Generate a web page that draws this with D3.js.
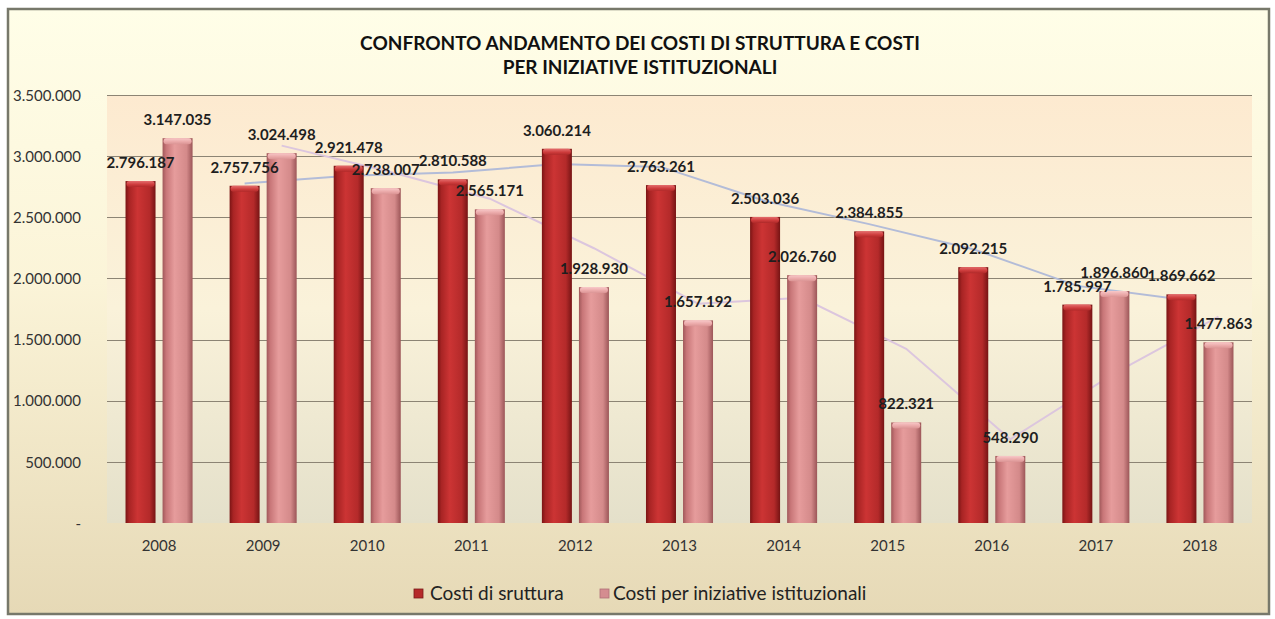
<!DOCTYPE html>
<html lang="it">
<head>
<meta charset="UTF-8">
<title>Confronto costi</title>
<script src="https://cdn.jsdelivr.net/npm/d3@7"></script>
<style>
  body { margin: 0; background: #fff; }
  svg text { font-family: Lato, "Open Sans", sans-serif; }
  .grid line { stroke: #8c8474; stroke-width: 1; }
  .axis text { font-size: 15px; fill: #333; }
  .val { font-size: 15px; font-weight: bold; fill: #1e1e1e; }
</style>
</head>
<body>
<svg width="1275" height="619"></svg>
<script>
// dati
const years = ["2008", "2009", "2010", "2011", "2012", "2013", "2014", "2015", "2016", "2017", "2018"];
const struttura = [2796187, 2757756, 2921478, 2810588, 3060214, 2763261, 2503036, 2384855, 2092215, 1785997, 1869662];
const istituzionali = [3147035, 3024498, 2738007, 2565171, 1928930, 1657192, 2026760, 822321, 548290, 1896860, 1477863];
// linee di tendenza (media mobile 2 periodi), dal 2009
const trendYears = ["2009", "2010", "2011", "2012", "2013", "2014", "2015", "2016", "2017", "2018"];
const trendStruttura = [2777000, 2840000, 2866000, 2935000, 2912000, 2633000, 2444000, 2239000, 1939000, 1828000];
const trendIstituz = [3086000, 2881000, 2652000, 2247000, 1793000, 1842000, 1425000, 685000, 1223000, 1688000];
const yTicks = [0, 500000, 1000000, 1500000, 2000000, 2500000, 3000000, 3500000];
const seriesNames = ["Costi di sruttura", "Costi per iniziative istituzionali"];

const svg = d3.select("svg");
const fmt = v => v === 0 ? "-" : d3.format(",")(v).replace(/,/g, ".");

const plot = { left: 107, right: 1252, top: 95, bottom: 523 };

const x0 = d3.scaleBand().domain(years).range([plot.left, plot.right]);
const x1 = d3.scaleBand().domain([0, 1]).range([0, x0.bandwidth()]).paddingInner(0.19).paddingOuter(0.5);
const y = d3.scaleLinear().domain([0, 3500000]).range([plot.bottom, plot.top]);

const defs = svg.append("defs");

function linGrad(id, vertical, stops) {
  const g = defs.append("linearGradient").attr("id", id)
    .attr("x1", 0).attr("y1", 0).attr("x2", vertical ? 0 : 1).attr("y2", vertical ? 1 : 0);
  stops.forEach(s => g.append("stop").attr("offset", s[0]).attr("stop-color", s[1]));
}
linGrad("bgChart", true, [[0, "#fffee8"], [0.45, "#fbf4d8"], [1, "#e6d9b6"]]);
linGrad("bgPlot", true, [[0, "#fdead0"], [0.5, "#faf2da"], [1, "#e4e0ca"]]);
linGrad("barRed", false, [[0, "#7a1414"], [0.12, "#a82424"], [0.4, "#cc3434"], [0.8, "#b42a2a"], [1, "#761414"]]);
linGrad("barPink", false, [[0, "#a0585a"], [0.12, "#c87678"], [0.4, "#e69c9c"], [0.8, "#d48a8a"], [1, "#9c5658"]]);
linGrad("capRed", true, [[0, "#e46c6c"], [0.6, "#cc3a3a"], [1, "#b02a2a"]]);
linGrad("capPink", true, [[0, "#f8c8c8"], [0.6, "#eaa8a8"], [1, "#da9494"]]);

// sfondo grafico
svg.append("rect")
  .attr("x", 8).attr("y", 9).attr("width", 1261).attr("height", 605)
  .attr("fill", "url(#bgChart)")
  .attr("stroke", "#77786a").attr("stroke-width", 2.5);

// area del tracciato
svg.append("rect")
  .attr("x", plot.left).attr("y", plot.top)
  .attr("width", plot.right - plot.left).attr("height", plot.bottom - plot.top)
  .attr("fill", "url(#bgPlot)");

// griglia
svg.append("g").attr("class", "grid")
  .selectAll("line").data(yTicks.filter(d => d > 0)).join("line")
  .attr("x1", plot.left).attr("x2", plot.right)
  .attr("y1", d => Math.round(y(d)) + 0.5).attr("y2", d => Math.round(y(d)) + 0.5);

// asse y
const yAxis = svg.append("g").attr("class", "axis")
  .attr("transform", `translate(${plot.left - 23},0)`)
  .call(d3.axisLeft(y).tickValues(yTicks).tickFormat(fmt).tickSize(0));
yAxis.select(".domain").remove();
yAxis.selectAll("text").attr("dx", 0).attr("dy", "0.35em");

// asse x
const xAxis = svg.append("g").attr("class", "axis")
  .attr("transform", `translate(0,${plot.bottom + 20})`)
  .call(d3.axisBottom(x0).tickSize(0));
xAxis.select(".domain").remove();
xAxis.selectAll("text").attr("dy", "0.35em");

// linee di tendenza (dietro le barre)
const trendLine = (idx) => d3.line()
  .x(d => x0(d.year) + x1(idx) + x1.bandwidth() / 2)
  .y(d => y(d.v));
svg.append("path")
  .datum(trendYears.map((yr, i) => ({ year: yr, v: trendStruttura[i] })))
  .attr("fill", "none").attr("stroke", "#b3bcd8").attr("stroke-width", 2)
  .attr("d", trendLine(0));
svg.append("path")
  .datum(trendYears.map((yr, i) => ({ year: yr, v: trendIstituz[i] })))
  .attr("fill", "none").attr("stroke", "#dcc6de").attr("stroke-width", 2)
  .attr("d", trendLine(1));

// barre
const data = years.map((yr, i) => ({ year: yr, vals: [struttura[i], istituzionali[i]] }));
const fills = ["url(#barRed)", "url(#barPink)"];
const caps = ["url(#capRed)", "url(#capPink)"];

const groups = svg.append("g").selectAll("g").data(data).join("g")
  .attr("transform", d => `translate(${x0(d.year)},0)`);

const bars = groups.selectAll("g.bar")
  .data(d => d.vals.map((v, k) => ({ v, k })))
  .join("g").attr("class", "bar");

bars.append("rect")
  .attr("x", d => x1(d.k)).attr("y", d => y(d.v))
  .attr("width", x1.bandwidth()).attr("height", d => y(0) - y(d.v))
  .attr("fill", d => fills[d.k]);

bars.append("rect")
  .attr("x", d => x1(d.k) + 1).attr("y", d => y(d.v))
  .attr("width", x1.bandwidth() - 2).attr("height", 6)
  .attr("rx", 3)
  .attr("fill", d => caps[d.k]);

// etichette valori
groups.selectAll("text.val")
  .data(d => d.vals.map((v, k) => ({ v, k })))
  .join("text").attr("class", "val")
  .attr("x", d => x1(d.k) + x1.bandwidth() / 2)
  .attr("y", d => y(d.v) - 13)
  .attr("text-anchor", "middle")
  .text(d => fmt(d.v));

// titolo
const title = svg.append("text")
  .attr("x", 640).attr("text-anchor", "middle")
  .style("font-size", "19px").style("font-weight", "bold").attr("fill", "#111");
title.append("tspan").attr("x", 640).attr("y", 50).text("CONFRONTO ANDAMENTO DEI COSTI DI STRUTTURA E COSTI");
title.append("tspan").attr("x", 640).attr("y", 74).text("PER INIZIATIVE ISTITUZIONALI");

// legenda
const legend = svg.append("g").attr("transform", "translate(414,589)");
const legX = [0, 186];
const legCol = ["#b52a2a", "#d48d90"];
seriesNames.forEach((name, i) => {
  const g = legend.append("g").attr("transform", `translate(${legX[i]},0)`);
  g.append("rect").attr("width", 9).attr("height", 9).attr("fill", legCol[i])
    .attr("stroke", i ? "#b07078" : "#7a1a1a").attr("stroke-width", 0.8);
  g.append("text").attr("x", i ? 13 : 16).attr("y", 11)
    .style("font-size", "19px").attr("fill", "#222").text(name);
});
</script>
</body>
</html>
